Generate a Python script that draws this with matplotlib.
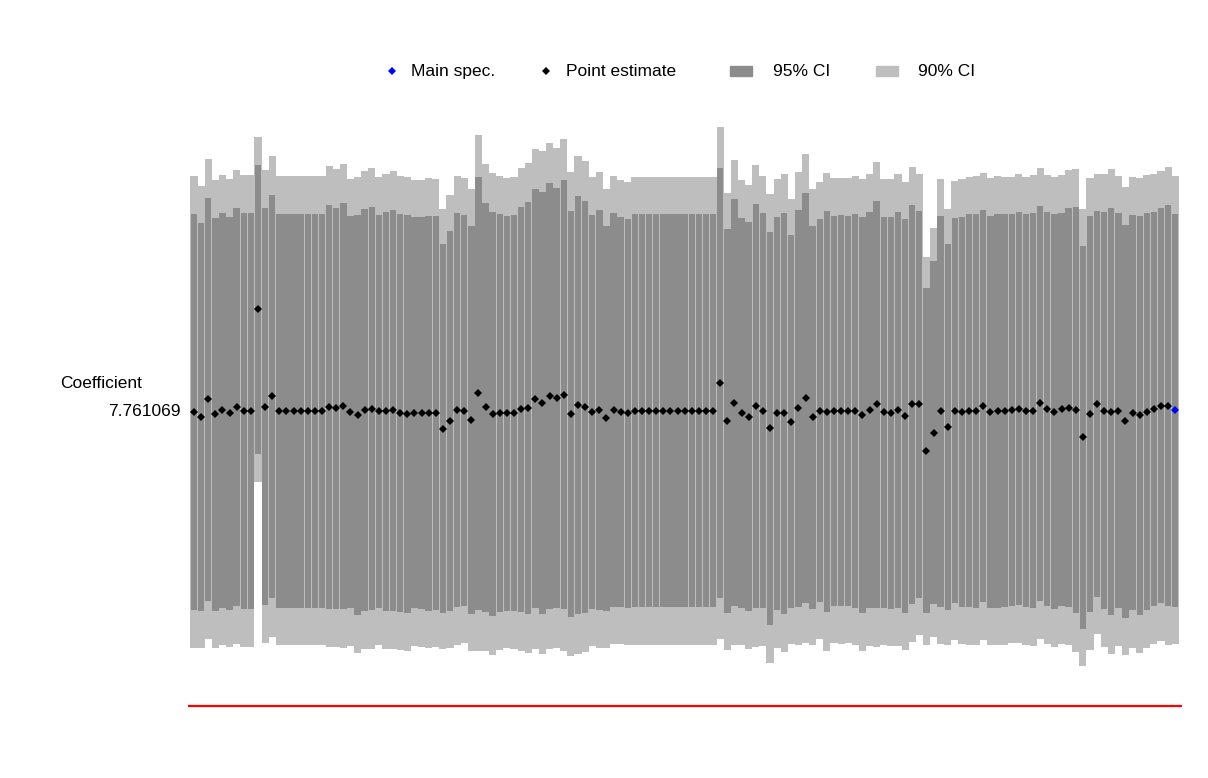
import numpy as np
import matplotlib
matplotlib.use("Agg")
import matplotlib.pyplot as plt
from matplotlib.lines import Line2D
from matplotlib.patches import Rectangle

plt.rcParams['font.family'] = ['Liberation Sans', 'DejaVu Sans']

main_spec = 7.761069

# point estimate per specification (last one is the main spec)
coef = [
    7.716, 7.577, 8.057, 7.656, 7.769, 7.682, 7.855, 7.751, 7.751, 10.409,
    7.855, 8.128, 7.751, 7.751, 7.751, 7.751, 7.751, 7.751, 7.751, 7.855,
    7.813, 7.874, 7.709, 7.638, 7.769, 7.803, 7.735, 7.735, 7.769, 7.690,
    7.664, 7.698, 7.682, 7.682, 7.690, 7.279, 7.473, 7.761, 7.751, 7.499,
    8.207, 7.840, 7.664, 7.682, 7.682, 7.682, 7.787, 7.821, 8.065, 7.960,
    8.136, 8.091, 8.170, 7.664, 7.900, 7.855, 7.724, 7.769, 7.551, 7.769,
    7.716, 7.682, 7.751, 7.751, 7.751, 7.751, 7.751, 7.751, 7.751, 7.751,
    7.751, 7.751, 7.751, 7.751, 8.485, 7.473, 7.960, 7.698, 7.593, 7.874,
    7.751, 7.289, 7.682, 7.682, 7.462, 7.813, 8.076, 7.577, 7.751, 7.724,
    7.751, 7.751, 7.751, 7.751, 7.638, 7.769, 7.918, 7.709, 7.698, 7.769,
    7.612, 7.918, 7.918, 6.702, 7.174, 7.735, 7.315, 7.751, 7.724, 7.751,
    7.751, 7.874, 7.724, 7.751, 7.751, 7.769, 7.803, 7.751, 7.751, 7.945,
    7.787, 7.724, 7.787, 7.829, 7.769, 7.053, 7.664, 7.926, 7.751, 7.724,
    7.751, 7.473, 7.698, 7.630, 7.724, 7.795, 7.882, 7.882, main_spec,
]

# standard errors
se = [
    3.156, 3.092, 3.212, 3.129, 3.148, 3.132, 3.172, 3.156, 3.156, 2.305,
    3.165, 3.213, 3.138, 3.138, 3.138, 3.138, 3.138, 3.138, 3.138, 3.220,
    3.196, 3.240, 3.124, 3.181, 3.200, 3.215, 3.132, 3.180, 3.196, 3.172,
    3.167, 3.116, 3.124, 3.145, 3.134, 2.941, 3.028, 3.140, 3.113, 3.092,
    3.451, 3.261, 3.224, 3.172, 3.145, 3.156, 3.229, 3.283, 3.342, 3.363,
    3.390, 3.347, 3.422, 3.240, 3.331, 3.283, 3.140, 3.183, 3.070, 3.135,
    3.103, 3.097, 3.130, 3.130, 3.130, 3.130, 3.130, 3.130, 3.130, 3.130,
    3.130, 3.130, 3.130, 3.130, 3.427, 3.060, 3.242, 3.108, 3.103, 3.220,
    3.145, 3.134, 3.134, 3.197, 2.976, 3.161, 3.267, 3.049, 3.055, 3.199,
    3.108, 3.119, 3.108, 3.140, 3.151, 3.161, 3.245, 3.118, 3.124, 3.151,
    3.135, 3.177, 3.086, 2.593, 2.737, 3.113, 2.917, 3.067, 3.108, 3.130,
    3.140, 3.124, 3.124, 3.140, 3.130, 3.119, 3.135, 3.130, 3.151, 3.150,
    3.140, 3.146, 3.134, 3.178, 3.231, 3.057, 3.161, 3.076, 3.162, 3.242,
    3.146, 3.129, 3.151, 3.181, 3.162, 3.145, 3.146, 3.199, 3.129,
]

inner_z = 1.645
outer_z = 1.96

dark_grey = '#8C8C8C'
light_grey = '#BEBEBE'

coef = np.array(coef)
se = np.array(se)
x = np.arange(len(coef))
inner = inner_z * se
outer = outer_z * se

W, H = 1208, 778
fig = plt.figure(figsize=(W / 100, H / 100), dpi=100)
ax = fig.add_axes([0.1556, 0.0488, 0.8229, 0.8226])

ax.bar(x, 2 * outer, bottom=coef - outer, width=1.0, color=light_grey, linewidth=0)
ax.bar(x, 2 * inner, bottom=coef - inner, width=0.9, color=dark_grey, linewidth=0)

ax.plot(x[:-1], coef[:-1], 'D', color='black', markersize=3.7, markeredgewidth=0)
ax.plot(x[-1:], coef[-1:], 'D', color='blue', markersize=3.7, markeredgewidth=0)

ax.axhline(0, color='red', linewidth=1.6)

ax.set_xlim(-0.85, len(coef) - 0.05)
ax.set_ylim(-0.884, 15.897)

for s in ax.spines.values():
    s.set_visible(False)
ax.set_xticks([])
ax.set_yticks([main_spec])
ax.set_yticklabels([f"{main_spec:.6f}"], fontsize=12.5, color='black')
ax.tick_params(axis='y', length=0, pad=5)

fig.text(60 / W, 1 - 383 / H, "Coefficient", fontsize=12.5, ha='left', va='center')

# legend row along the top, laid out in pixels
ly = 1 - 71 / H
base = 1 - 76 / H
fig.add_artist(Line2D([392 / W], [ly], marker='D', color='blue', linestyle='none',
                      markersize=4.2, markeredgewidth=0))
fig.text(411 / W, base, "Main spec.", fontsize=12.5, ha='left', va='baseline')
fig.add_artist(Line2D([546 / W], [ly], marker='D', color='black', linestyle='none',
                      markersize=4.2, markeredgewidth=0))
fig.text(566 / W, base, "Point estimate", fontsize=12.5, ha='left', va='baseline')
fig.add_artist(Rectangle((730 / W, 1 - 76 / H), 22 / W, 10 / H, color=dark_grey,
                         transform=fig.transFigure))
fig.text(773 / W, base, "95% CI", fontsize=12.5, ha='left', va='baseline')
fig.add_artist(Rectangle((876 / W, 1 - 76 / H), 22 / W, 10 / H, color=light_grey,
                         transform=fig.transFigure))
fig.text(918 / W, base, "90% CI", fontsize=12.5, ha='left', va='baseline')

fig.savefig("out.png", dpi=100)
